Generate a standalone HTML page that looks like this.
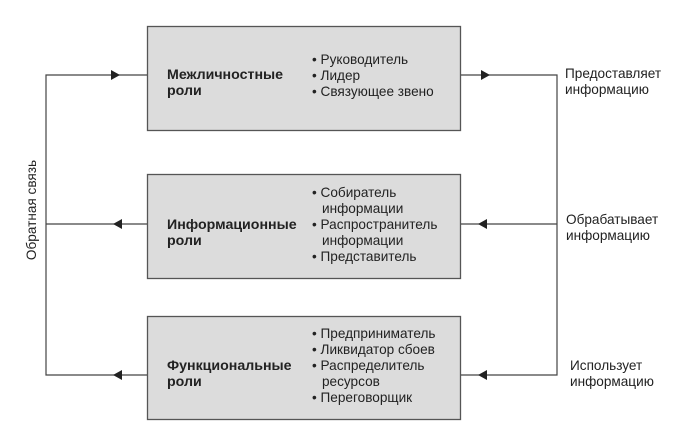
<!DOCTYPE html>
<html><head><meta charset="utf-8"><style>
html,body{margin:0;padding:0;background:#fff;}
svg text{font-family:"Liberation Sans",Arial,sans-serif;font-size:13.6px;fill:#222;}
.b{font-weight:bold;font-size:14.2px;}
</style></head><body>
<svg width="700" height="425" viewBox="0 0 700 425" xmlns="http://www.w3.org/2000/svg">
<g fill="#dcdcdc" stroke="#555" stroke-width="1.3">
<rect x="147.5" y="26.5" width="313" height="104"/>
<rect x="147.5" y="174.5" width="313" height="104"/>
<rect x="147.5" y="316.5" width="313" height="103"/>
</g>
<g stroke="#444" stroke-width="1.2" fill="none">
<polyline points="147,75 46,75 46,375 147,375"/>
<line x1="46" y1="224" x2="147" y2="224"/>
<polyline points="461,75 557,75 557,375 461,375"/>
<line x1="461" y1="224" x2="557" y2="224"/>
</g>
<g fill="#222">
<polygon points="120,75 111,70 111,80"/>
<polygon points="490,75 481,70 481,80"/>
<polygon points="113,224 122,219 122,229"/>
<polygon points="113,375 122,370 122,380"/>
<polygon points="478,224 487,219 487,229"/>
<polygon points="478,375 487,370 487,380"/>
</g>
<text class="b" x="167" y="79">Межличностные</text>
<text class="b" x="167" y="95">роли</text>
<text x="312" y="64">• Руководитель</text>
<text x="312" y="80">• Лидер</text>
<text x="312" y="96">• Связующее звено</text>

<text class="b" x="167" y="229">Информационные</text>
<text class="b" x="167" y="245">роли</text>
<text x="312" y="197">• Собиратель</text>
<text x="322" y="213">информации</text>
<text x="312" y="229">• Распространитель</text>
<text x="322" y="245">информации</text>
<text x="312" y="261">• Представитель</text>

<text class="b" x="167" y="370">Функциональные</text>
<text class="b" x="167" y="386">роли</text>
<text x="312" y="338">• Предприниматель</text>
<text x="312" y="354">• Ликвидатор сбоев</text>
<text x="312" y="370">• Распределитель</text>
<text x="322" y="386">ресурсов</text>
<text x="312" y="402">• Переговорщик</text>

<text x="565" y="78">Предоставляет</text>
<text x="565" y="94">информацию</text>
<text x="566" y="224">Обрабатывает</text>
<text x="566" y="240">информацию</text>
<text x="570" y="370">Использует</text>
<text x="570" y="386">информацию</text>

<text transform="translate(36,210) rotate(-90)" text-anchor="middle">Обратная связь</text>
</svg>
</body></html>
